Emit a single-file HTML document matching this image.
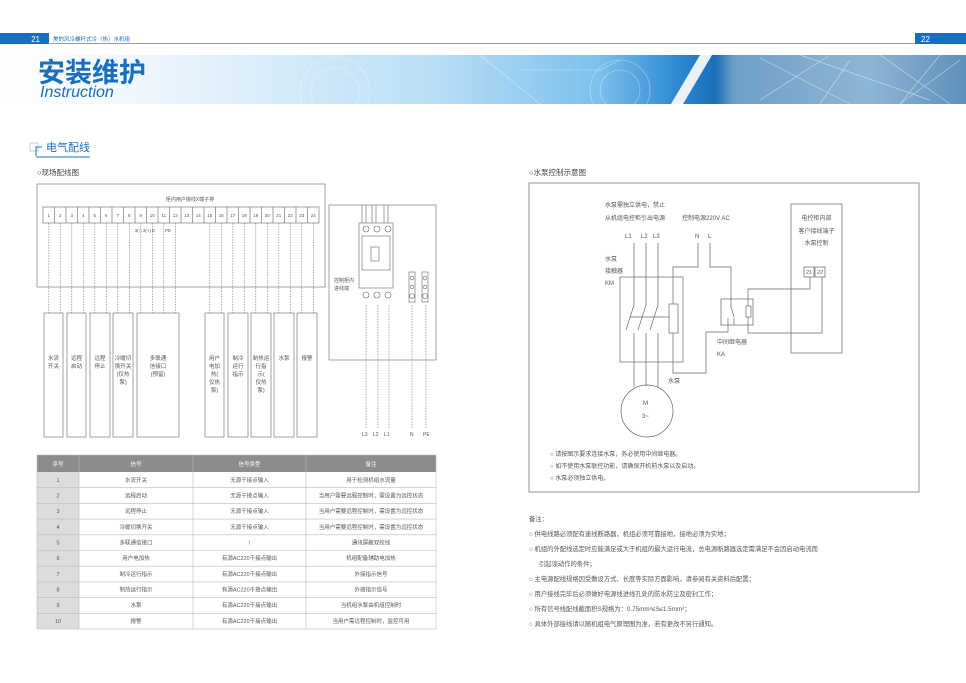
<!DOCTYPE html>
<html><head><meta charset="utf-8"><style>
html,body{margin:0;padding:0;background:#fff;}
svg{display:block;}
text{font-family:"Liberation Sans","Noto Sans CJK SC",sans-serif;}
</style></head><body>
<svg width="966" height="683" viewBox="0 0 966 683" xmlns="http://www.w3.org/2000/svg">
<defs>
<linearGradient id="bn" x1="0" y1="0" x2="1" y2="0">
<stop offset="0" stop-color="#ffffff"/>
<stop offset="0.15" stop-color="#eef6fc"/>
<stop offset="0.45" stop-color="#b9def6"/>
<stop offset="0.62" stop-color="#7cc0ec"/>
<stop offset="0.70" stop-color="#2f8ad2"/>
<stop offset="0.74" stop-color="#1a6fb8"/>
<stop offset="0.76" stop-color="#6f9fc6"/>
<stop offset="0.9" stop-color="#8db6d6"/>
<stop offset="1" stop-color="#5e8fba"/>
</linearGradient>
</defs>
<!-- header -->
<rect x="0" y="33" width="49" height="11" fill="#1a6fbd"/>
<text x="40" y="42" font-size="8" fill="#fff" text-anchor="end">21</text>
<text x="53" y="41" font-size="5.5" fill="#1a6fbd">美的风冷螺杆式冷（热）水机组</text>
<rect x="50" y="43" width="916" height="1" fill="#999"/>
<rect x="915" y="33" width="51" height="11" fill="#1a6fbd"/>
<text x="921" y="42" font-size="8" fill="#fff">22</text>
<!-- banner -->
<rect x="0" y="55" width="966" height="49" fill="url(#bn)"/>
<polygon points="700,55 712,55 683,104 671,104" fill="#fff" opacity="0.9"/>
<g stroke="#ffffff" stroke-width="0.6" opacity="0.5" fill="none">
<circle cx="335" cy="92" r="35"/><circle cx="335" cy="92" r="24"/>
<circle cx="620" cy="90" r="30"/><circle cx="620" cy="90" r="20"/>
<path d="M480 55 L540 104 M520 70 L600 70 L620 60"/>
</g>
<g stroke="#dce9f3" stroke-width="0.7" opacity="0.7">
<path d="M760 58 L850 104 M800 55 L930 100 M850 60 L820 104 M880 55 L950 104 M900 104 L960 60 M940 55 L900 104 M760 100 L830 55"/>
</g>
<text x="38" y="82" font-size="27" font-weight="bold" fill="#1a6fbd">安装维护</text>
<text x="40" y="97" font-size="16" font-style="italic" fill="#1a6fbd">Instruction</text>
<!-- section heading -->
<rect x="30" y="143" width="8" height="8" fill="none" stroke="#ccc" stroke-width="1"/>
<path d="M36 156 V147 H42" fill="none" stroke="#1a6fbd" stroke-width="1"/>
<text x="46" y="151" font-size="11" fill="#1a6fbd">电气配线</text>
<line x1="36" y1="157" x2="90" y2="157" stroke="#1a6fbd" stroke-width="1"/>
<text x="37" y="175" font-size="7.5" fill="#444">○现场配线图</text>
<text x="529" y="175" font-size="7.5" fill="#444">○水泵控制示意图</text>

<!-- left diagram -->
<g stroke="#666" stroke-width="0.6" fill="none">
<rect x="37" y="184" width="288" height="103"/>
<rect x="43" y="207" width="276" height="16"/>
<path d="M54.5 207V223 M66 207V223 M77.5 207V223 M89 207V223 M100.5 207V223 M112 207V223 M123.5 207V223 M135 207V223 M146.5 207V223 M158 207V223 M169.5 207V223 M181 207V223 M192.5 207V223 M204 207V223 M215.5 207V223 M227 207V223 M238.5 207V223 M250 207V223 M261.5 207V223 M273 207V223 M284.5 207V223 M296 207V223 M307.5 207V223"/>
</g>
<g font-size="4.5" fill="#555" text-anchor="middle">
<text x="190" y="201" font-size="5">柜内用户接线X端子排</text>
<text x="48.8" y="217">1</text><text x="60.3" y="217">2</text><text x="71.8" y="217">3</text><text x="83.3" y="217">4</text><text x="94.8" y="217">5</text><text x="106.3" y="217">6</text><text x="117.8" y="217">7</text><text x="129.3" y="217">8</text><text x="140.8" y="217">9</text><text x="152.3" y="217">10</text><text x="163.8" y="217">11</text><text x="175.3" y="217">12</text><text x="186.8" y="217">13</text><text x="198.3" y="217">14</text><text x="209.8" y="217">15</text><text x="221.3" y="217">16</text><text x="232.8" y="217">17</text><text x="244.3" y="217">18</text><text x="255.8" y="217">19</text><text x="267.3" y="217">20</text><text x="278.8" y="217">21</text><text x="290.3" y="217">22</text><text x="301.8" y="217">23</text><text x="313.3" y="217">24</text>
<text x="145" y="232">3(-) 3(+) E</text><text x="168" y="232">PE</text>
</g>
<g stroke="#777" stroke-width="0.6" stroke-dasharray="1.5,1.2">
<path d="M48.8 223V313 M60.3 223V313 M71.8 223V313 M83.3 223V313 M94.8 223V313 M106.3 223V313 M117.8 223V313 M129.3 223V313 M140.8 223V313 M152.3 223V313 M163.8 223V313 M175.3 223V313 M209.8 223V313 M221.3 223V313 M232.8 223V313 M244.3 223V313 M255.8 223V313 M267.3 223V313 M278.8 223V313 M290.3 223V313 M301.8 223V313 M313.3 223V313"/>
</g>
<g stroke="#666" stroke-width="0.6" fill="none">
<rect x="44" y="313" width="19" height="124"/><rect x="67" y="313" width="19" height="124"/><rect x="90" y="313" width="20" height="124"/><rect x="113" y="313" width="20" height="124"/><rect x="137" y="313" width="42" height="124"/>
<rect x="205" y="313" width="19" height="124"/><rect x="228" y="313" width="20" height="124"/><rect x="251" y="313" width="20" height="124"/><rect x="274" y="313" width="20" height="124"/><rect x="297" y="313" width="20" height="124"/>
</g>
<g font-size="5.5" fill="#555" text-anchor="middle">
<text x="53.5" y="360">水流</text><text x="53.5" y="368">开关</text>
<text x="76.5" y="360">远程</text><text x="76.5" y="368">启动</text>
<text x="100" y="360">远程</text><text x="100" y="368">停止</text>
<text x="123" y="360">冷暖切</text><text x="123" y="368">换开关</text><text x="123" y="376">(仅热</text><text x="123" y="384">泵)</text>
<text x="158" y="360">多联通</text><text x="158" y="368">信接口</text><text x="158" y="376">(预留)</text>
<text x="214.5" y="360">用户</text><text x="214.5" y="368">电加</text><text x="214.5" y="376">热(</text><text x="214.5" y="384">仅热</text><text x="214.5" y="392">泵)</text>
<text x="238" y="360">制冷</text><text x="238" y="368">运行</text><text x="238" y="376">指示</text>
<text x="261" y="360">制热运</text><text x="261" y="368">行指</text><text x="261" y="376">示(</text><text x="261" y="384">仅热</text><text x="261" y="392">泵)</text>
<text x="284" y="360">水泵</text><text x="307" y="360">报警</text>
</g>
<!-- left-right panel -->
<g stroke="#666" stroke-width="0.6" fill="none">
<rect x="329" y="205" width="107" height="155"/>
<path d="M362 205V223 M366 205V223 M372 205V223 M376 205V223 M384 205V223 M388 205V223"/>
<rect x="359" y="223" width="34" height="65"/>
<rect x="362" y="236" width="28" height="34"/>
<rect x="371" y="247" width="8" height="14"/>
<circle cx="366" cy="229" r="3"/><circle cx="377" cy="229" r="3"/><circle cx="388" cy="229" r="3"/>
<circle cx="366" cy="295" r="3"/><circle cx="377" cy="295" r="3"/><circle cx="388" cy="295" r="3"/>
<rect x="409" y="272" width="6" height="30"/><rect x="422" y="272" width="6" height="30"/>
<circle cx="412" cy="278" r="1.8"/><circle cx="412" cy="287" r="1.8"/><circle cx="412" cy="296" r="2.5"/>
<circle cx="425" cy="278" r="1.8"/><circle cx="425" cy="287" r="1.8"/><circle cx="425" cy="296" r="2.5"/>
</g>
<g stroke="#777" stroke-width="0.6" stroke-dasharray="1.5,1.2">
<path d="M366 305V428 M378 305V428 M389 305V428 M412 305V428 M426 305V428"/>
</g>
<g font-size="5" fill="#555">
<text x="334" y="282">控制柜内</text><text x="334" y="290">进线端</text>
<text x="362" y="436">L3</text><text x="373" y="436">L2</text><text x="384" y="436">L1</text><text x="410" y="436">N</text><text x="423" y="436">PE</text>
</g>

<!-- table -->
<rect x="37" y="455" width="399" height="17" fill="#8c8c8c"/>
<g font-size="5.5" fill="#fff" text-anchor="middle">
<text x="58" y="466">序号</text><text x="136" y="466">信号</text><text x="249.5" y="466">信号类型</text><text x="371" y="466">备注</text>
</g>
<rect x="37" y="472" width="42" height="157" fill="#dcdcdc"/>
<g stroke="#bbb" stroke-width="0.6" fill="none">
<rect x="37" y="455" width="399" height="174"/>
<path d="M37 487.7H436 M37 503.4H436 M37 519.1H436 M37 534.8H436 M37 550.5H436 M37 566.2H436 M37 581.9H436 M37 597.6H436 M37 613.3H436"/>
<path d="M79 455V629 M193 455V629 M306 455V629"/>
</g>
<g font-size="5.5" fill="#555" text-anchor="middle">
<text x="58" y="482">1</text><text x="136" y="482">水流开关</text><text x="249.5" y="482">无源干接点输入</text><text x="371" y="482">用于检测机组水流量</text>
<text x="58" y="497.5">2</text><text x="136" y="497.5">远程启动</text><text x="249.5" y="497.5">无源干接点输入</text><text x="371" y="497.5">当用户需要远程控制时，需设置为远控状态</text>
<text x="58" y="513">3</text><text x="136" y="513">远程停止</text><text x="249.5" y="513">无源干接点输入</text><text x="371" y="513">当用户需要远程控制时，需设置为远控状态</text>
<text x="58" y="529">4</text><text x="136" y="529">冷暖切换开关</text><text x="249.5" y="529">无源干接点输入</text><text x="371" y="529">当用户需要远程控制时，需设置为远控状态</text>
<text x="58" y="544.5">5</text><text x="136" y="544.5">多联通信接口</text><text x="249.5" y="544.5">/</text><text x="371" y="544.5">通讯屏蔽双绞线</text>
<text x="58" y="560">6</text><text x="136" y="560">用户电加热</text><text x="249.5" y="560">有源AC220干接点输出</text><text x="371" y="560">机组配备辅助电加热</text>
<text x="58" y="576">7</text><text x="136" y="576">制冷运行指示</text><text x="249.5" y="576">有源AC220干接点输出</text><text x="371" y="576">外接指示信号</text>
<text x="58" y="591.5">8</text><text x="136" y="591.5">制热运行指示</text><text x="249.5" y="591.5">有源AC220干接点输出</text><text x="371" y="591.5">外接指示信号</text>
<text x="58" y="607">9</text><text x="136" y="607">水泵</text><text x="249.5" y="607">有源AC220干接点输出</text><text x="371" y="607">当机组水泵由机组控制时</text>
<text x="58" y="623">10</text><text x="136" y="623">报警</text><text x="249.5" y="623">有源AC220干接点输出</text><text x="371" y="623">当用户需远程控制时，监控可用</text>
</g>

<!-- right diagram -->
<g stroke="#666" stroke-width="0.7" fill="none">
<rect x="529" y="183" width="390" height="309"/>
<rect x="620" y="277" width="63" height="85"/>
<path d="M634 243V305 L626 330 M646 243V305 L638 330 M658 243V305 L650 330"/>
<path d="M634 333V387 M646 333V386 M658 333V387"/>
<path d="M630 317H669"/>
<rect x="669" y="304" width="9" height="29"/>
<path d="M698 243V267H673V304 M673 333V373H706V332H728V318"/>
<path d="M710 243V267H731V307L734 317 M734 318V325"/>
<rect x="721" y="299" width="32" height="26"/>
<rect x="746" y="306" width="5" height="11"/>
<path d="M748 306V289H810V277 M748 317V333H822V277"/>
<rect x="791" y="204" width="51" height="149"/>
<rect x="804" y="267" width="10" height="10"/><rect x="815" y="267" width="10" height="10"/>
<circle cx="647" cy="411" r="26"/>
</g>
<g font-size="6" fill="#555">
<text x="605" y="207">水泵需独立供电，禁止</text>
<text x="605" y="220">从机组电控柜引出电源</text>
<text x="682" y="220">控制电源220V AC</text>
<text x="625" y="238">L1</text><text x="641" y="238">L2</text><text x="653" y="238">L3</text>
<text x="695" y="238">N</text><text x="708" y="238">L</text>
<text x="605" y="261">水泵</text><text x="605" y="273">接触器</text><text x="605" y="285">KM</text>
<text x="717" y="344">中间继电器</text><text x="717" y="356">KA</text>
<text x="668" y="383">水泵</text>
<text x="643" y="405">M</text><text x="642" y="418">3~</text>
<text x="816.5" y="220" text-anchor="middle">电控柜内部</text>
<text x="816.5" y="233" text-anchor="middle">客户接线端子</text>
<text x="816.5" y="245" text-anchor="middle">水泵控制</text>
<text x="806" y="274" font-size="5.5">21</text><text x="817" y="274" font-size="5.5">22</text>
</g>
<g font-size="6" fill="#555">
<text x="550" y="456">○ 请按图示要求连接水泵，务必使用中间继电器。</text>
<text x="550" y="468">○ 如不使用水泵联控功能，请确保开机前水泵以及启动。</text>
<text x="550" y="480">○ 水泵必须独立供电。</text>
</g>
<g font-size="6.3" fill="#555">
<text x="529" y="521">备注：</text>
<text x="529" y="536">○ 供电线路必须配有速线断路器，机组必须可靠接地，接地必须为实地；</text>
<text x="529" y="551">○ 机组的外配线选定时应能满足或大于机组的最大运行电流，总电源断路器选定需满足不会因启动电流而</text>
<text x="539" y="566">引起误动作的条件；</text>
<text x="529" y="581">○ 主电源配线规格因受敷设方式、长度等实际方面影响，请参阅有关资料后配置；</text>
<text x="529" y="596">○ 用户接线完毕后必须做好电源线进线孔处的防水防尘及密封工作；</text>
<text x="529" y="611">○ 所有信号线配线截面积S规格为：0.75mm²≤S≤1.5mm²；</text>
<text x="529" y="626">○ 具体外部接线请以随机组电气原理图为准，若有更改不另行通知。</text>
</g>
</svg>
</body></html>
